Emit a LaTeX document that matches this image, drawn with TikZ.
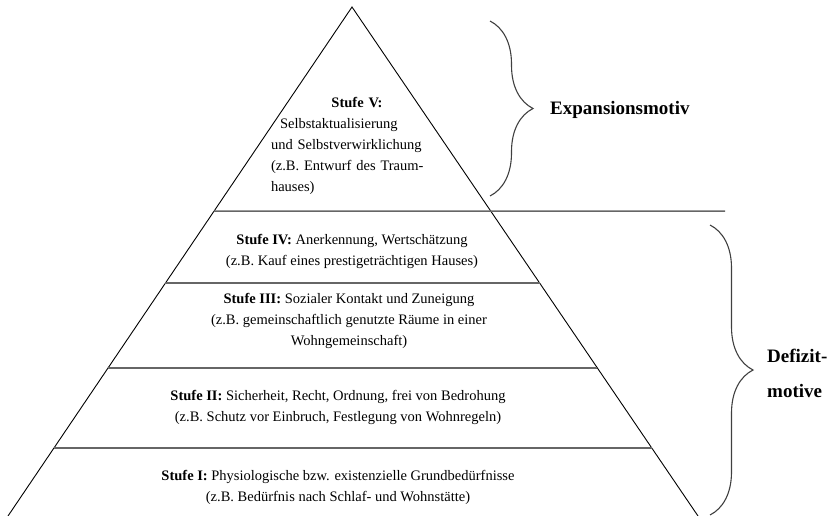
\documentclass[tikz,border=0pt]{standalone}
\usepackage{fontspec}
\setmainfont{Liberation Serif}
\usetikzlibrary{calc,decorations.pathreplacing}

\begin{document}
\begin{tikzpicture}[x=1pt, y=-1pt,
  level/.style={inner sep=0pt, anchor=north, align=center,
    font=\fontsize{14.5}{21}\selectfont},
  motive/.style={inner sep=0pt, align=left,
    font=\fontsize{19}{35}\selectfont\bfseries},
  stepline/.style={draw=black!60, line width=1.5pt},
  bracket/.style={draw=black!75, line width=1.1pt, decorate,
    decoration={brace, amplitude=43pt}}]
\useasboundingbox (0,0) rectangle (840,516);

% pyramid
\coordinate (top) at (352,7);
\coordinate (left) at (8,516);
\coordinate (right) at (698,516);
\coordinate (sepend) at (725,211);
\draw[line width=0.9pt] (left) -- (top) -- (right);

% steps
\draw[stepline] ($(top)!0.4008!(left)$) -- (sepend);
\foreach \y in {283,368,448}
  \draw[stepline] ($(top)!{(\y-7)/509}!(left)$) -- ($(top)!{(\y-7)/509}!(right)$);

% levels
\node[level, text width=172pt, align=left] (stufe5) at (357,97)
  {\hfill\textbf{Stufe V:}\hfill\null\\
   \hspace*{9pt}Selbstaktualisierung\\
   und Selbstverwirklichung\\
   (z.B. Entwurf des Traum-\\
   hauses)};
\node[level] (stufe4) at (352,234)
  {\textbf{Stufe IV:} Anerkennung, Wertschätzung\\
   (z.B. Kauf eines prestigeträchtigen Hauses)};
\node[level] (stufe3) at (349,293)
  {\textbf{Stufe III:} Sozialer Kontakt und Zuneigung\\
   (z.B. gemeinschaftlich genutzte Räume in einer\\
   Wohngemeinschaft)};
\node[level] (stufe2) at (338,390)
  {\textbf{Stufe II:} Sicherheit, Recht, Ordnung, frei von Bedrohung\\
   (z.B. Schutz vor Einbruch, Festlegung von Wohnregeln)};
\node[level] (stufe1) at (338,470)
  {\textbf{Stufe I:} Physiologische bzw. existenzielle Grundbedürfnisse\\
   (z.B. Bedürfnis nach Schlaf- und Wohnstätte)};

% braces
\coordinate (exptop) at (490,21);
\coordinate (expbot) at (490,196);
\coordinate (deftop) at (710,225);
\coordinate (defbot) at (710,515);
\draw[bracket] (exptop) -- (expbot);
\draw[bracket] (deftop) -- (defbot);

\node[motive, anchor=base west] (expansion) at (550,115) {Expansionsmotiv};
\node[motive, anchor=north west] (defizit) at (767,349) {Defizit-\\motive};
\end{tikzpicture}
\end{document}
